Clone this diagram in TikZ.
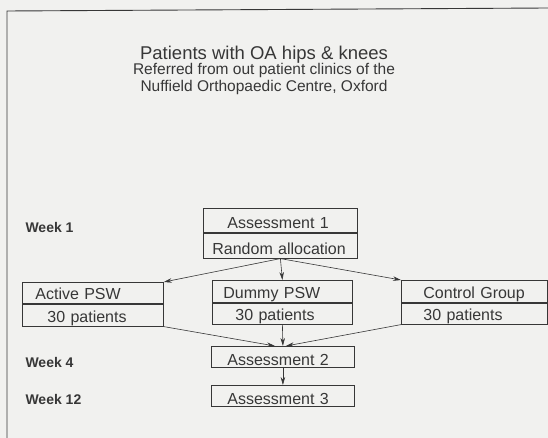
\documentclass[tikz,border=0pt]{standalone}
\usepackage{fontspec}
\setmainfont{Liberation Sans}
\usetikzlibrary{arrows.meta}
\definecolor{paper}{RGB}{241,241,239}
\definecolor{ink}{RGB}{55,55,55}
\begin{document}
\begin{tikzpicture}[x=1pt,y=-1pt,
  cell/.style={draw=ink, line width=0.8pt, inner sep=0pt, align=left, anchor=north west,
    text depth=4pt, text=ink, font=\fontsize{16}{18}\selectfont},
  week/.style={anchor=base west, text=ink, font=\fontsize{14}{16}\selectfont\bfseries},
  flow/.style={draw=ink, line width=0.6pt, -{Stealth[length=8pt,width=4.5pt]}}]
\fill[paper] (0,0) rectangle (548,438);
\useasboundingbox (0,0) rectangle (548,438);
\draw[ink, line width=0.9pt] (7,438) -- (7,11) -- (548,8);
\node[anchor=base, inner sep=0pt, text=ink, font=\fontsize{18.5}{21}\selectfont] (title) at (264,60) {Patients with OA hips \& knees};
\node[anchor=base, inner sep=0pt, text=ink, align=center, font=\fontsize{15.5}{17}\selectfont] (sub) at (264,92)
  {Referred from out patient clinics of the\\Nuffield Orthopaedic Centre, Oxford};
\node[week] (w1) at (22,233) {Week 1};
\node[week] (w4) at (22,367) {Week 4};
\node[week] (w12) at (22,404) {Week 12};
\node[cell, text width=154pt, text height=20pt] (ass1) at (203,208) {\hspace*{24pt}Assessment 1};
\node[cell, text width=154pt, text height=21pt] (rand) at (ass1.south west) {\hspace*{9pt}Random allocation};
\node[cell, text width=141pt, text height=17pt] (active) at (22,282) {\hspace*{13pt}Active PSW};
\node[cell, text width=141pt, text height=18pt] (pat1) at (active.south west) {\hspace*{25pt}30 patients};
\node[cell, text width=140pt, text height=18pt] (dummy) at (212,280) {\hspace*{11pt}Dummy PSW};
\node[cell, text width=140pt, text height=17pt] (pat2) at (dummy.south west) {\hspace*{23pt}30 patients};
\node[cell, text width=146pt, text height=18pt] (control) at (401,280) {\hspace*{22pt}Control Group};
\node[cell, text width=146pt, text height=17pt] (pat3) at (control.south west) {\hspace*{22pt}30 patients};
\node[cell, text width=143pt, text height=19pt, text depth=2pt] (ass2) at (211,346) {\hspace*{16pt}Assessment 2};
\node[cell, text width=143pt, text height=19pt, text depth=2pt] (ass3) at (211,385) {\hspace*{16pt}Assessment 3};
\draw[flow] (rand.south) -- (active.north east);
\draw[flow] (rand.south) -- (dummy.north);
\draw[flow] (rand.south) -- (control.north west);
\draw[flow] (pat1.south east) -- ([xshift=-8pt]ass2.north);
\draw[flow] (pat2.south) -- (ass2.north);
\draw[flow] (pat3.south west) -- ([xshift=3pt]ass2.north);
\draw[flow] (ass2.south) -- (ass3.north);
\end{tikzpicture}
\end{document}
